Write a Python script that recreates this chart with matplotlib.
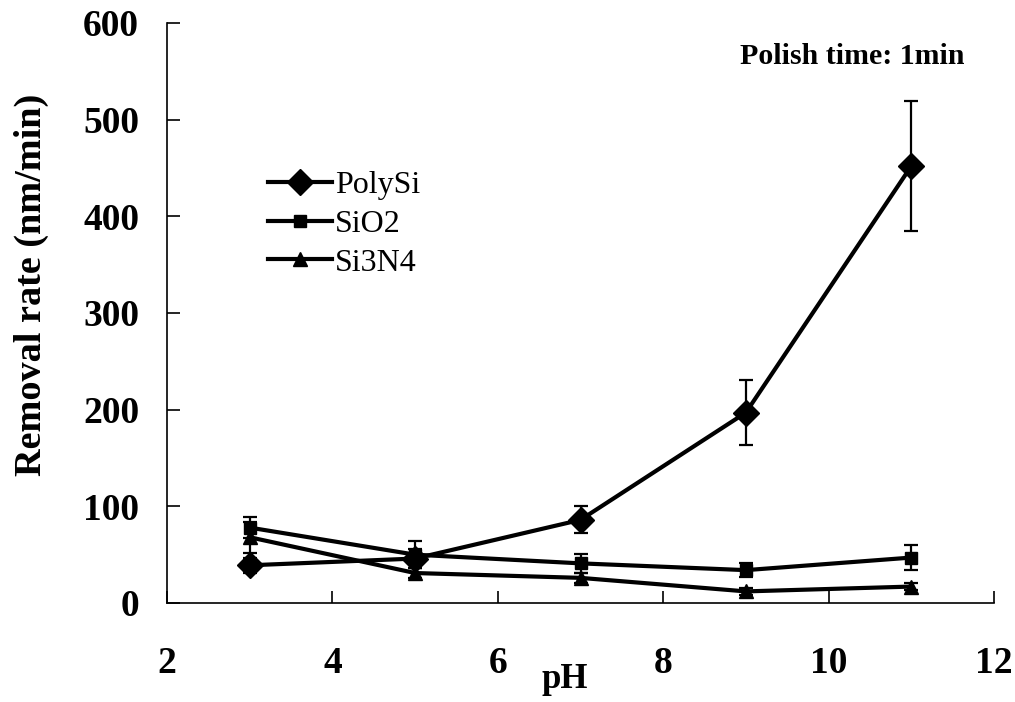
import matplotlib
matplotlib.use("Agg")
import matplotlib.pyplot as plt

plt.rcParams['font.family'] = ['Liberation Serif', 'DejaVu Serif']

ph = [3, 5, 7, 9, 11]
polysi = [39, 46, 86, 197, 452]
polysi_err = [8, 10, 14, 34, 67]
sio2 = [78, 50, 41, 34, 47]
sio2_err = [11, 14, 10, 7, 13]
si3n4 = [68, 31, 26, 12, 17]
si3n4_err = [16, 5, 5, 4, 4]

W, H = 1015, 702
fig = plt.figure(figsize=(W / 100, H / 100), dpi=100)
ax = fig.add_axes([167 / W, 1 - 603 / H, 827 / W, 580 / H])

# capsize is half the cap width in matplotlib
kw = dict(color='black', lw=3, capsize=5, elinewidth=1.6, capthick=1.6)
ax.errorbar(ph, polysi, yerr=polysi_err, marker='D', ms=13, label='PolySi', **kw)
ax.errorbar(ph, sio2, yerr=sio2_err, marker='s', ms=9, label='SiO2', **kw)
ax.errorbar(ph, si3n4, yerr=si3n4_err, marker='^', ms=10, label='Si3N4', **kw)

ax.set_xlim(2, 12)
ax.set_ylim(0, 600)
ax.set_xticks([2, 4, 6, 8, 10, 12])
ax.set_yticks([0, 100, 200, 300, 400, 500, 600])
ax.spines['top'].set_visible(False)
ax.spines['right'].set_visible(False)
for s in ('left', 'bottom'):
    ax.spines[s].set_linewidth(1.2)
ax.tick_params(direction='in', length=9, width=1.2, labelsize=27)
ax.tick_params(axis='y', pad=20)
ax.tick_params(axis='x', pad=31)
for lab in ax.get_xticklabels() + ax.get_yticklabels():
    lab.set_fontweight('bold')

fig.text(565 / W, 1 - 680 / H, 'pH', fontsize=25, fontweight='bold',
         ha='center', va='center')
fig.text(31 / W, 1 - 285 / H, 'Removal rate (nm/min)', fontsize=27.5,
         fontweight='bold', rotation=90, ha='center', va='center')

fig.text(965 / W, 1 - 57 / H, 'Polish time: 1min', fontsize=21.5,
         fontweight='bold', ha='right', va='center')

handles, labels = ax.get_legend_handles_labels()
handles = [h[0] for h in handles]
fig.legend(handles, labels, loc='center left',
           bbox_to_anchor=(268 / W, 1 - 224 / H), borderaxespad=0,
           borderpad=0, frameon=False, fontsize=23, handlelength=2.0,
           handletextpad=0.1, labelspacing=0.3)

fig.savefig('out.png', dpi=100)
